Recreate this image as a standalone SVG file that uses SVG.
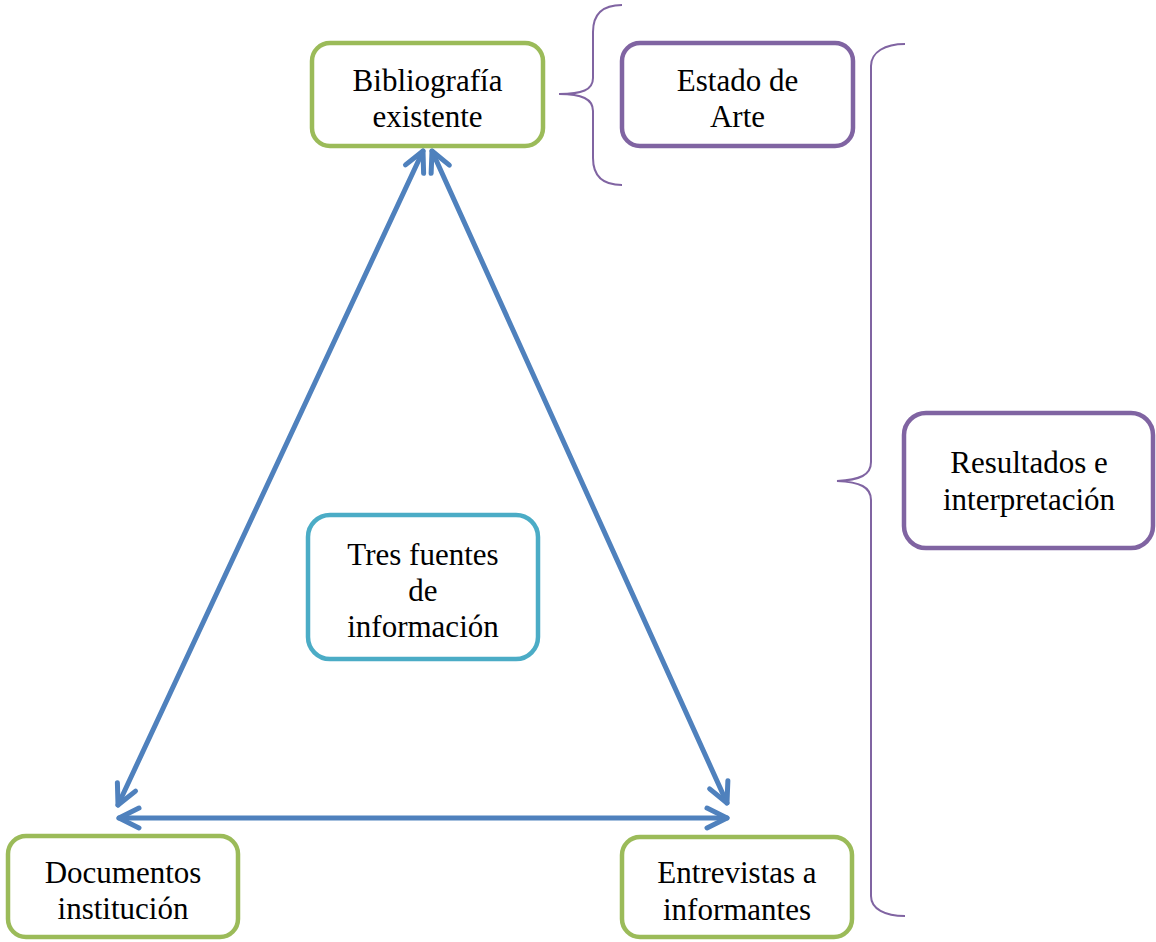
<svg xmlns="http://www.w3.org/2000/svg" width="1156" height="942" viewBox="0 0 1156 942">
<style>
.box{fill:#fff;stroke-width:4.5}
.g{stroke:#9BBB59}
.p{stroke:#8064A2}
.c{stroke:#4BACC6}
text{font-family:'Liberation Serif','Times New Roman',Times,serif;font-size:31px;fill:#000;text-anchor:middle}
.conn{stroke:#4F81BD;stroke-width:5;fill:none;stroke-linecap:round}
.brace{stroke:#8064A2;stroke-width:2;fill:none}
</style>
<defs>
<marker id="ah" markerUnits="userSpaceOnUse" markerWidth="50" markerHeight="50" refX="0" refY="0" viewBox="-25 -25 50 50" orient="auto-start-reverse" overflow="visible">
<path d="M-20,-10 L0,0 L-20,10" fill="none" stroke="#4F81BD" stroke-width="5" stroke-linecap="round" stroke-linejoin="round"/>
</marker>
</defs>
<rect width="1156" height="942" fill="#fff"/>
<g id="connectors">
<line class="conn" x1="423" y1="151" x2="118" y2="805" marker-start="url(#ah)" marker-end="url(#ah)"/>
<line class="conn" x1="432" y1="151" x2="727" y2="803" marker-start="url(#ah)" marker-end="url(#ah)"/>
<line class="conn" x1="119" y1="818" x2="727" y2="818" marker-start="url(#ah)" marker-end="url(#ah)"/>
<path id="brace-small" class="brace" d="M622,5 C603,5 593,14 593,32 L593,78 C593,90 582,94 559,94 C582,94 593,99 593,111 L593,158 C593,176 603,185 622,185"/>
<path id="brace-large" class="brace" d="M905,44 C885,44 871,52 871,66 L871,462 C871,475 860,480 837,481 C860,482 871,487 871,500 L871,896 C871,909 885,916 905,916"/>
</g>
<g id="bibliografia">
<rect class="box g" x="312" y="43" width="231" height="103" rx="18"/>
<text x="427.5" y="91">Bibliografía</text>
<text x="427.5" y="127">existente</text>
</g>
<g id="estado">
<rect class="box p" x="622" y="43" width="231" height="103" rx="18"/>
<text x="737.5" y="91">Estado de</text>
<text x="737.5" y="127">Arte</text>
</g>
<g id="resultados">
<rect class="box p" x="904" y="413" width="249" height="135" rx="22"/>
<text x="1029" y="473">Resultados e</text>
<text x="1029" y="510">interpretación</text>
</g>
<g id="tres">
<rect class="box c" x="308" y="515" width="230" height="144" rx="22"/>
<text x="423" y="565">Tres fuentes</text>
<text x="423" y="601">de</text>
<text x="423" y="637">información</text>
</g>
<g id="documentos">
<rect class="box g" x="8" y="836" width="230" height="101" rx="18"/>
<text x="123" y="883">Documentos</text>
<text x="123" y="919">institución</text>
</g>
<g id="entrevistas">
<rect class="box g" x="622" y="837" width="230" height="100" rx="18"/>
<text x="737" y="883">Entrevistas a</text>
<text x="737" y="920">informantes</text>
</g>
</svg>
